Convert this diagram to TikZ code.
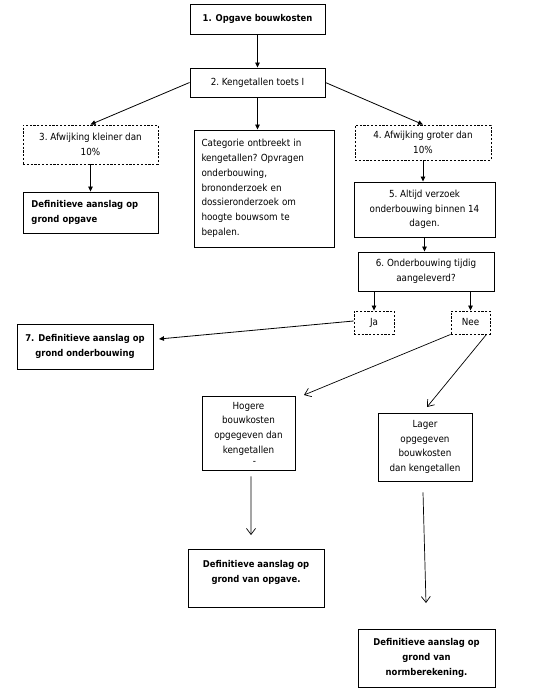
\documentclass[tikz,border=0pt]{standalone}
\usepackage{fontspec}
\setmainfont{DejaVu Sans Condensed}
\usetikzlibrary{arrows.meta,calc}
\tikzset{
  box/.style={draw=black, line width=0.9bp, inner sep=0pt, align=center, font=\fontsize{9.8}{14.8}\selectfont\frenchspacing},
  dbox/.style={box, dash pattern=on 2.2bp off 1.6bp},
  lbox/.style={box, align=left},
  bbox/.style={box, font=\fontsize{9.4}{14.8}\selectfont\bfseries},
  fa/.style={line width=0.8bp, -{Triangle[width=4.5bp,length=5bp]}},
  oa/.style={line width=0.7bp, -{Straight Barb[width=9bp,length=6bp,line width=0.7bp]}},
}
\begin{document}
\begin{tikzpicture}[x={(1bp,0)}, y={(0,-1bp)}]
\useasboundingbox[fill=white] (0,0) rectangle (539,698);
\node[bbox, minimum width=135bp, minimum height=30bp] (b1) at (257.5,19) {1. Opgave bouwkosten};
\node[box, minimum width=135bp, minimum height=29bp] (b2) at (257.5,82.5) {2. Kengetallen toets I};
\node[dbox, minimum width=135bp, minimum height=39bp] (b3) at (90.5,144.5) {3. Afwijking kleiner dan\\10\%};
\node[lbox, minimum width=140bp, minimum height=117bp, text width=125bp] (cat) at (264,188.5) {Categorie ontbreekt in\\kengetallen? Opvragen\\onderbouwing,\\brononderzoek en\\dossieronderzoek om\\hoogte bouwsom te\\bepalen.};
\node[dbox, minimum width=136bp, minimum height=35bp] (b4) at (423,142.5) {4. Afwijking groter dan\\10\%};
\node[bbox, align=left, minimum width=135bp, minimum height=41bp, text width=118bp] (d3) at (90.5,212.5) {Definitieve aanslag op\\grond opgave};
\node[box, minimum width=141bp, minimum height=55bp] (b5) at (424.5,209.5) {5. Altijd verzoek\\onderbouwing binnen 14\\dagen.};
\node[box, minimum width=136bp, minimum height=39bp] (b6) at (426,271.5) {6. Onderbouwing tijdig\\aangeleverd?};
\node[dbox, minimum width=40bp, minimum height=23bp] (ja) at (374,322.5) {Ja};
\node[dbox, minimum width=39bp, minimum height=23bp] (nee) at (470.5,322.5) {Nee};
\node[bbox, minimum width=136bp, minimum height=45bp] (b7) at (85,346.5) {7. Definitieve aanslag op\\grond onderbouwing};
\node[box, minimum width=93bp, minimum height=74bp] (hog) at (248.5,433) {Hogere\\bouwkosten\\opgegeven dan\\kengetallen\\[-4bp]\hspace*{12bp}-};
\node[box, minimum width=94bp, minimum height=68bp] (lag) at (425,447) {Lager\\opgegeven\\bouwkosten\\dan kengetallen};
\node[bbox, minimum width=136bp, minimum height=58bp] (d2) at (256,578) {Definitieve aanslag op\\grond van opgave.\\[-2bp]\mbox{}};
\node[bbox, minimum width=137bp, minimum height=58bp] (dn) at (426.5,658) {Definitieve aanslag op\\grond van\\normberekening.};
\coordinate (jaend) at (159,339);
\coordinate (hogend) at (304,395);
\coordinate (lagend) at (427,407);
\coordinate (d2end) at (251,535);
\coordinate (dnend) at (426,603);
\draw[fa] (b1.south) -- (b2.north);
\draw[fa] (b2.south) -- (b2.south |- cat.north);
\draw[fa] (b2.west) -- (b3.north);
\draw[fa] (b2.east) -- (b4.north);
\draw[fa] (b3.south) -- (d3.north);
\draw[fa] (b4.south) -- (b4.south |- b5.north);
\draw[fa] (b5.south) -- (b5.south |- b6.north);
\draw[fa] (b6.south -| ja.north) -- (ja.north);
\draw[fa] (b6.south -| nee.north) -- (nee.north);
\draw[fa] ([yshift=1.5bp]ja.west) -- (jaend);
\draw[oa] (nee.south west) -- (hogend);
\draw[oa] ([xshift=-4bp]nee.south east) -- (lagend);
\draw[oa] ([xshift=2.5bp,yshift=-6bp]hog.south) -- (d2end);
\draw[oa] ([xshift=-2bp,yshift=-11bp]lag.south) -- (dnend);
\end{tikzpicture}
\end{document}
